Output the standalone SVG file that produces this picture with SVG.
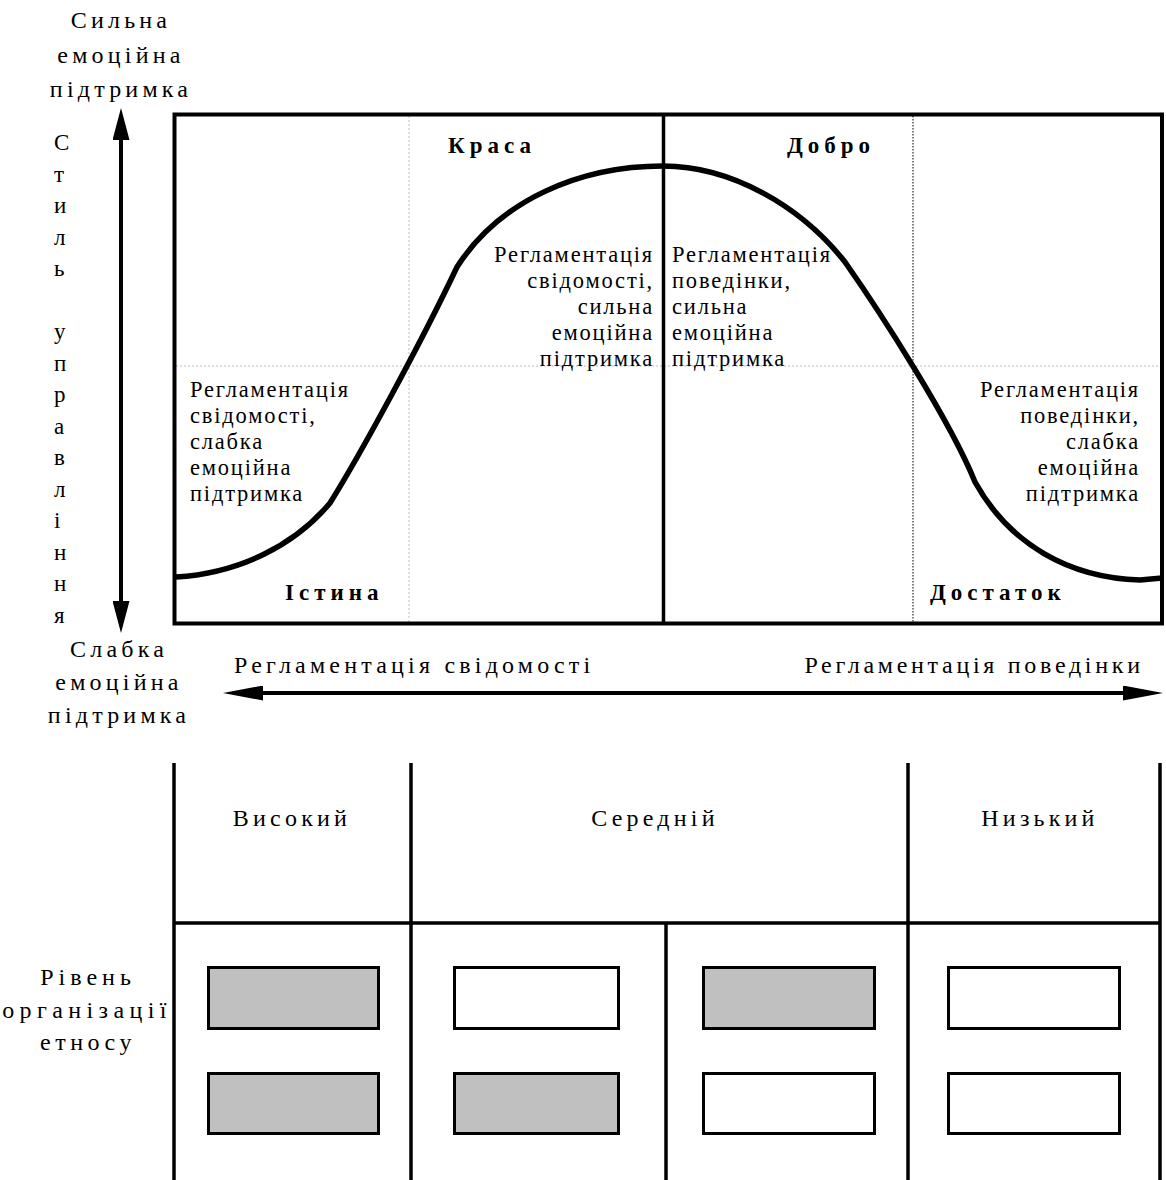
<svg xmlns="http://www.w3.org/2000/svg" width="1166" height="1180" viewBox="0 0 1166 1180">
<style>
text{font-family:"Liberation Serif","Times New Roman",serif;fill:#000}
.lbl{font-size:24px;letter-spacing:4.2px}
.in{font-size:22.5px;letter-spacing:1.8px}
.b{font-size:23px;font-weight:bold;letter-spacing:5px}
.v{font-size:23px}
.frame{fill:none;stroke:#000;stroke-width:4}
.grid{fill:none;stroke:#000;stroke-width:3.5}
.box{stroke:#000;stroke-width:3}
.g{fill:#c0c0c0}
.w{fill:#fff}
</style>
<defs>
<marker id="ahv" viewBox="0 0 32 17" refX="0" refY="8.5" markerWidth="32" markerHeight="17" markerUnits="userSpaceOnUse" orient="auto-start-reverse"><path d="M0,0 L32,8.5 L0,17 Z" fill="#000"/></marker>
<marker id="ahh" viewBox="0 0 40 15" refX="0" refY="7.5" markerWidth="40" markerHeight="15" markerUnits="userSpaceOnUse" orient="auto-start-reverse"><path d="M0,0 L40,7.5 L0,15 Z" fill="#000"/></marker>
</defs>
<rect width="1166" height="1180" fill="#fff"/>

<g id="chart">
<line x1="409" y1="116" x2="409" y2="622" stroke="#bbb" stroke-width="1" stroke-dasharray="2,2"/>
<line x1="176" y1="366" x2="1160" y2="366" stroke="#bbb" stroke-width="1" stroke-dasharray="2,2"/>
<line x1="913" y1="116" x2="913" y2="622" stroke="#000" stroke-width="1" stroke-dasharray="1.5,1.5"/>
<rect class="frame" x="174.5" y="114.5" width="987.5" height="509"/>
<line x1="663.5" y1="114" x2="663.5" y2="624" stroke="#000" stroke-width="3.5"/>
<path d="M176,577 C240,573 295,545 330,503 C360,455 420,345 457,267 C500,200 580,166 663,166 C730,166 800,205 845,262 C880,312 950,420 975,482 C1010,545 1070,578 1140,580 L1162,578" fill="none" stroke="#000" stroke-width="5.5" stroke-linejoin="round"/>
</g>

<g id="label-krasa"><text class="b" x="448" y="153">Краса</text></g>
<g id="label-dobro"><text class="b" x="787" y="153">Добро</text></g>
<g id="label-istyna"><text class="b" x="285" y="600">Істина</text></g>
<g id="label-dostatok"><text class="b" x="930" y="600">Достаток</text></g>

<g id="text-q1">
<text class="in" x="190" y="397">Регламентація</text>
<text class="in" x="190" y="423">свідомості,</text>
<text class="in" x="190" y="449">слабка</text>
<text class="in" x="190" y="475">емоційна</text>
<text class="in" x="190" y="501">підтримка</text>
</g>
<g id="text-q2" text-anchor="end">
<text class="in" x="654" y="262">Регламентація</text>
<text class="in" x="654" y="288">свідомості,</text>
<text class="in" x="654" y="314">сильна</text>
<text class="in" x="654" y="340">емоційна</text>
<text class="in" x="654" y="366">підтримка</text>
</g>
<g id="text-q3">
<text class="in" x="672" y="262">Регламентація</text>
<text class="in" x="672" y="288">поведінки,</text>
<text class="in" x="672" y="314">сильна</text>
<text class="in" x="672" y="340">емоційна</text>
<text class="in" x="672" y="366">підтримка</text>
</g>
<g id="text-q4" text-anchor="end">
<text class="in" x="1140" y="397">Регламентація</text>
<text class="in" x="1140" y="423">поведінки,</text>
<text class="in" x="1140" y="449">слабка</text>
<text class="in" x="1140" y="475">емоційна</text>
<text class="in" x="1140" y="501">підтримка</text>
</g>

<g id="axis-top-label" text-anchor="middle">
<text class="lbl" x="121" y="28">Сильна</text>
<text class="lbl" x="121" y="63">емоційна</text>
<text class="lbl" x="121" y="97">підтримка</text>
</g>
<g id="axis-bottom-label" text-anchor="middle">
<text class="lbl" x="119" y="657">Слабка</text>
<text class="lbl" x="119" y="690">емоційна</text>
<text class="lbl" x="119" y="723">підтримка</text>
</g>
<g id="axis-vertical-title">
<text class="v" x="54" y="150">С</text>
<text class="v" x="54" y="181.5">т</text>
<text class="v" x="54" y="213">и</text>
<text class="v" x="54" y="244.5">л</text>
<text class="v" x="54" y="276">ь</text>
<text class="v" x="54" y="339">у</text>
<text class="v" x="54" y="370.5">п</text>
<text class="v" x="54" y="402">р</text>
<text class="v" x="54" y="433.5">а</text>
<text class="v" x="54" y="465">в</text>
<text class="v" x="54" y="496.5">л</text>
<text class="v" x="54" y="528">і</text>
<text class="v" x="54" y="559.5">н</text>
<text class="v" x="54" y="591">н</text>
<text class="v" x="54" y="622.5">я</text>
</g>
<g id="axis-h-left"><text class="lbl" x="234" y="673">Регламентація свідомості</text></g>
<g id="axis-h-right"><text class="lbl" x="1143.7" y="673" text-anchor="end" style="letter-spacing:3.7px">Регламентація поведінки</text></g>

<g id="connectors">
<line x1="121" y1="140" x2="121" y2="601" stroke="#000" stroke-width="4" marker-start="url(#ahv)" marker-end="url(#ahv)"/>
<line x1="263" y1="693" x2="1123" y2="693" stroke="#000" stroke-width="4" marker-start="url(#ahh)" marker-end="url(#ahh)"/>
</g>

<g id="table">
<line class="grid" x1="174" y1="763" x2="174" y2="1180"/>
<line class="grid" x1="411" y1="763" x2="411" y2="1180"/>
<line class="grid" x1="908" y1="763" x2="908" y2="1180"/>
<line class="grid" x1="1160" y1="763" x2="1160" y2="1180"/>
<line class="grid" x1="174" y1="923" x2="1160" y2="923"/>
<line class="grid" x1="666" y1="923" x2="666" y2="1180"/>
</g>
<g id="col-vysokyi"><text class="lbl" x="292" y="826" text-anchor="middle">Високий</text></g>
<g id="col-serednii"><text class="lbl" x="655" y="826" text-anchor="middle">Середній</text></g>
<g id="col-nyzkyi"><text class="lbl" x="1040" y="826" text-anchor="middle">Низький</text></g>
<g id="row-label" text-anchor="middle">
<text class="lbl" x="88" y="985" style="letter-spacing:5px">Рівень</text>
<text class="lbl" x="87" y="1018" style="letter-spacing:5.4px">організації</text>
<text class="lbl" x="88" y="1050" style="letter-spacing:4.5px">етносу</text>
</g>
<g id="box-1-1"><rect class="box g" x="208.5" y="967.5" width="170" height="61"/></g>
<g id="box-1-2"><rect class="box g" x="208.5" y="1073.5" width="170" height="60"/></g>
<g id="box-2-1"><rect class="box w" x="454.5" y="967.5" width="164" height="61"/></g>
<g id="box-2-2"><rect class="box g" x="454.5" y="1073.5" width="164" height="60"/></g>
<g id="box-3-1"><rect class="box g" x="703.5" y="967.5" width="171" height="61"/></g>
<g id="box-3-2"><rect class="box w" x="703.5" y="1073.5" width="171" height="60"/></g>
<g id="box-4-1"><rect class="box w" x="948.5" y="967.5" width="171" height="61"/></g>
<g id="box-4-2"><rect class="box w" x="948.5" y="1073.5" width="171" height="60"/></g>
</svg>
